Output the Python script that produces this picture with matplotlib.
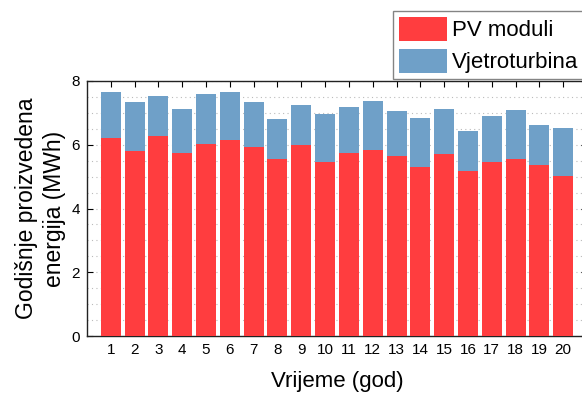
import matplotlib
matplotlib.use("Agg")
import matplotlib.pyplot as plt
from matplotlib.ticker import MultipleLocator
import numpy as np

years = list(range(1, 21))
total = [7.66, 7.34, 7.53, 7.12, 7.59, 7.66, 7.34, 6.81, 7.25, 6.97,
         7.19, 7.38, 7.06, 6.84, 7.12, 6.43, 6.90, 7.09, 6.62, 6.53]
pv = [6.22, 5.81, 6.29, 5.73, 6.02, 6.15, 5.93, 5.55, 6.00, 5.47,
      5.74, 5.85, 5.66, 5.29, 5.71, 5.19, 5.46, 5.56, 5.37, 5.02]
wind = [t - p for t, p in zip(total, pv)]

plt.rcParams['font.family'] = ['Liberation Sans', 'DejaVu Sans']

fig = plt.figure(figsize=(5.82, 3.94), dpi=100)
W, H = 582, 394
ax = fig.add_axes([87 / W, (H - 336) / H, (587 - 87) / W, (336 - 81) / H])

red = '#FF3D3F'
blue = '#6FA0C8'
b1 = ax.bar(years, pv, width=0.84, color=red, label='PV moduli', zorder=3)
b2 = ax.bar(years, wind, width=0.84, bottom=pv, color=blue, label='Vjetroturbina', zorder=3)

ax.set_xlim(0, 21)
ax.set_ylim(0, 8)
ax.set_xticks(years)
ax.set_yticks([0, 2, 4, 6, 8])
ax.yaxis.set_minor_locator(MultipleLocator(0.5))
ax.grid(True, which='both', axis='y', linestyle=(0, (1, 3)), color='#BBBBBB', linewidth=0.8, zorder=0)
ax.tick_params(axis='both', which='major', direction='in', top=True, right=True,
               labelsize=11, length=4, width=0.8, pad=5)
ax.tick_params(axis='y', which='minor', length=0)
for s in ax.spines.values():
    s.set_linewidth(1.0)
    s.set_color('#222222')

ax.set_xlabel('Vrijeme (god)', fontsize=16, labelpad=10)
ax.set_ylabel('Godišnje proizvedena\nenergija (MWh)', fontsize=16.5, labelpad=4,
              linespacing=1.25, multialignment='center')

leg = fig.legend(handles=[b1, b2], loc='upper left', bbox_to_anchor=(393 / W, 1 - 11 / H),
                 fontsize=16, frameon=True, fancybox=False, borderaxespad=0,
                 handlelength=2.2, handleheight=1.3, handletextpad=0.2,
                 borderpad=0.25, labelspacing=0.35)
leg.get_frame().set_edgecolor('#666666')
leg.get_frame().set_linewidth(1.0)

fig.savefig('out.png', dpi=100)
